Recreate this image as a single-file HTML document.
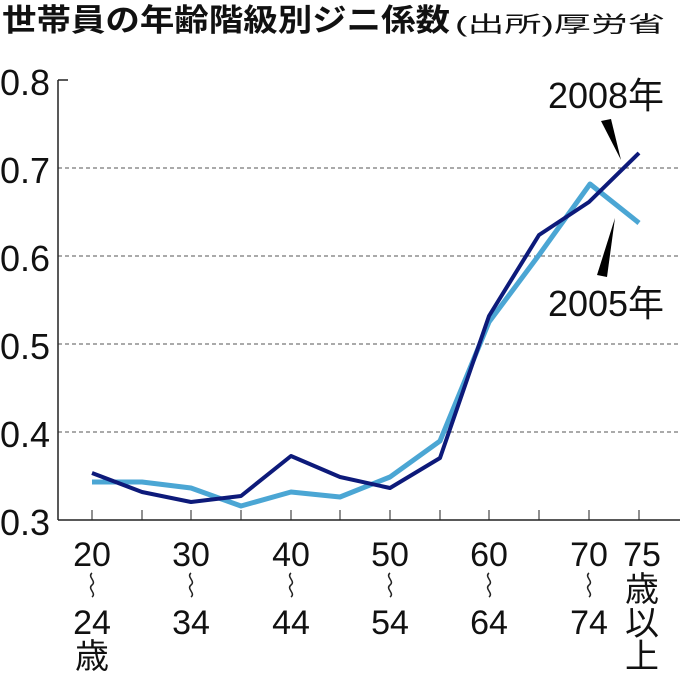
<!DOCTYPE html>
<html><head><meta charset="utf-8"><style>
body{margin:0;background:#fff;width:680px;height:680px;overflow:hidden}
text{font-family:"Liberation Sans","Noto Sans CJK JP",sans-serif;fill:#111}
</style></head><body>
<svg width="680" height="680" viewBox="0 0 680 680">
<text x="2" y="31" font-size="31" font-weight="bold" textLength="448" lengthAdjust="spacingAndGlyphs">世帯員の年齢階級別ジニ係数</text>
<text x="455" y="32" font-size="22" textLength="210" lengthAdjust="spacingAndGlyphs">(出所)厚労省</text>
<g stroke="#555" stroke-width="1" stroke-dasharray="4,3">
<line x1="58" y1="168" x2="680" y2="168"/><line x1="58" y1="256" x2="680" y2="256"/>
<line x1="58" y1="344" x2="680" y2="344"/><line x1="58" y1="432" x2="680" y2="432"/>
</g>
<g stroke="#222" stroke-width="1.5">
<line x1="58" y1="80" x2="58" y2="520"/><line x1="58" y1="520" x2="680" y2="520"/>
<line x1="58" y1="80" x2="68" y2="80"/>
<path d="M92 520v-10M142 520v-10M191 520v-10M241 520v-10M291 520v-10M340 520v-10M390 520v-10M440 520v-10M489 520v-10M539 520v-10M589 520v-10M639 520v-10" stroke-width="1"/>
</g>
<g font-size="36" text-anchor="end">
<text x="50" y="95">0.8</text><text x="50" y="183">0.7</text><text x="50" y="271">0.6</text>
<text x="50" y="359">0.5</text><text x="50" y="447">0.4</text><text x="50" y="535">0.3</text>
</g>
<polyline fill="none" stroke="#4ba6d4" stroke-width="5" stroke-linejoin="round" points="92,482 142,482 191,488 241,506 291,492 340,497 390,477 440,441 489,322 539,255 590,184 639,223"/>
<polyline fill="none" stroke="#0d1a7a" stroke-width="4" stroke-linejoin="round" points="92,473 142,492 191,502 241,496 291,456 340,477 390,488 440,458 489,316 539,235 589,202 639,153"/>
<polygon points="601,121 611,119 621,160" fill="#000"/>
<polygon points="615,218 597,275 607,277" fill="#000"/>
<g font-size="36" text-anchor="middle">
<text x="606" y="108">2008年</text><text x="606" y="316">2005年</text>
<g font-size="34">
<text x="92" y="566">20</text><text x="92" y="634">24</text><text x="92" y="668">歳</text>
<text x="191" y="566">30</text><text x="191" y="634">34</text>
<text x="291" y="566">40</text><text x="291" y="634">44</text>
<text x="390" y="566">50</text><text x="390" y="634">54</text>
<text x="489" y="566">60</text><text x="489" y="634">64</text>
<text x="589" y="566">70</text><text x="589" y="634">74</text>
<text x="642" y="566">75</text><text x="642" y="601">歳</text><text x="642" y="635">以</text><text x="642" y="668">上</text>
</g></g>
<g fill="none" stroke="#222" stroke-width="1.5">
<path d="M92 573c-5 4 5 8 0 12s5 8 0 12"/>
<path d="M191 573c-5 4 5 8 0 12s5 8 0 12"/>
<path d="M291 573c-5 4 5 8 0 12s5 8 0 12"/>
<path d="M390 573c-5 4 5 8 0 12s5 8 0 12"/>
<path d="M489 573c-5 4 5 8 0 12s5 8 0 12"/>
<path d="M589 573c-5 4 5 8 0 12s5 8 0 12"/>
</g>
</svg>
</body></html>
